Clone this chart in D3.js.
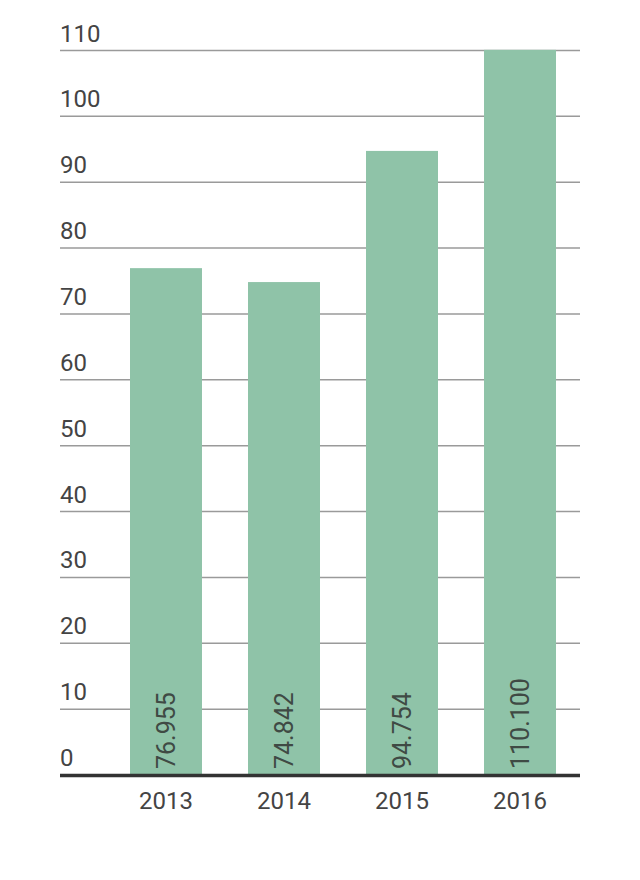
<!DOCTYPE html>
<html><head><meta charset="utf-8">
<script src="https://cdn.jsdelivr.net/npm/d3@7"></script>
<style>html,body{margin:0;padding:0;background:#fff;}</style>
</head><body>
<svg id="chart" width="640" height="880"></svg>
<script>
const categories = ["2013", "2014", "2015", "2016"];
const values = [76.955, 74.842, 94.754, 110.100];
const valueLabels = ["76.955", "74.842", "94.754", "110.100"];
const yTicks = [0, 10, 20, 30, 40, 50, 60, 70, 80, 90, 100, 110];

(function () {
const svg = d3.select("#chart");
const font = "Roboto, 'Noto Sans', sans-serif";
const mLeft = 60, mRight = 580, mTop = 50.5, mBottom = 775;

const x = d3.scaleBand().domain(categories).range([106.4, 579.6]).paddingInner(0.39).paddingOuter(0.2);
const y = d3.scaleLinear().domain([0, 110]).range([mBottom, mTop]);

// gridlines
svg.append("g").selectAll("line").data(yTicks.filter(d => d > 0)).join("line")
  .attr("x1", mLeft).attr("x2", mRight)
  .attr("y1", d => y(d)).attr("y2", d => y(d))
  .attr("stroke", "#9a9a9a").attr("stroke-width", 1.5);

// tick labels
svg.append("g").selectAll("text").data(yTicks).join("text")
  .attr("x", mLeft).attr("y", d => y(d) - 9)
  .attr("font-family", font).attr("font-size", 24).attr("fill", "#444")
  .text(d => d);

// bars
svg.append("g").selectAll("rect").data(values).join("rect")
  .attr("x", (d, i) => x(categories[i]))
  .attr("width", x.bandwidth())
  .attr("y", d => y(d))
  .attr("height", d => y(0) - y(d))
  .attr("fill", "#8fc3a8");

// value labels
svg.append("g").selectAll("text").data(valueLabels).join("text")
  .attr("transform", (d, i) => `translate(${x(categories[i]) + x.bandwidth() / 2 + 9},${y(0) - 6}) rotate(-90)`)
  .attr("font-family", font).attr("font-size", 25).attr("fill", "#3f4a44")
  .text(d => d);

// baseline
svg.append("line").attr("x1", mLeft).attr("x2", mRight)
  .attr("y1", y(0) + 0.5).attr("y2", y(0) + 0.5)
  .attr("stroke", "#333").attr("stroke-width", 3.5);

// x labels
svg.append("g").selectAll("text").data(categories).join("text")
  .attr("x", d => x(d) + x.bandwidth() / 2).attr("y", 809)
  .attr("text-anchor", "middle")
  .attr("font-family", font).attr("font-size", 24).attr("fill", "#444")
  .text(d => d);
})();
</script>
</body></html>
